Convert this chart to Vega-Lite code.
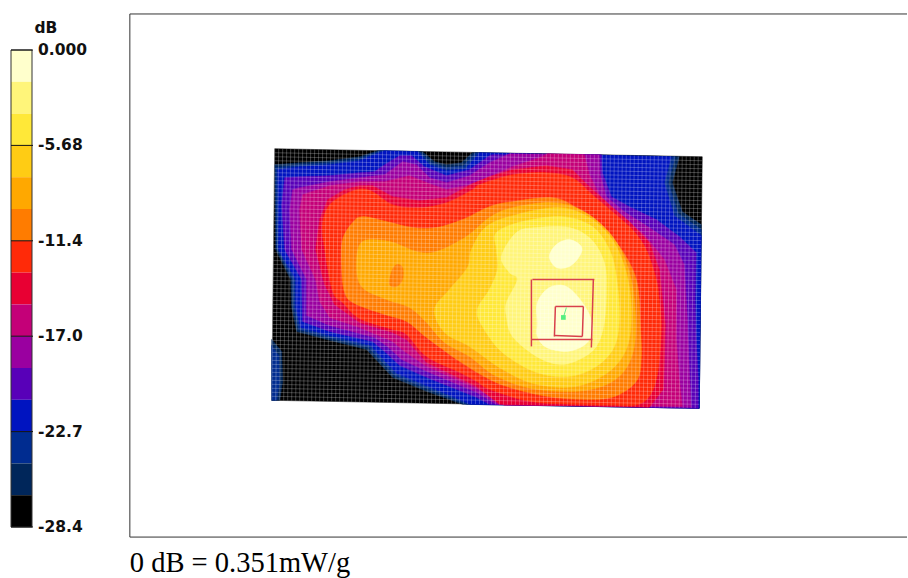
{"$schema":"https://vega.github.io/schema/vega-lite/v6.json","width":908,"height":578,"autosize":{"type":"fit","contains":"padding"},"padding":0,"background":"white","view":{"stroke":null},
"datasets":{
"outer":[
{"band":15,"part":1,"x":275,"y":149},{"band":15,"part":1,"x":703,"y":157},{"band":15,"part":1,"x":700,"y":409},{"band":15,"part":1,"x":272,"y":401},
{"band":14,"part":1,"x":378,"y":151},{"band":14,"part":1,"x":423,"y":152},{"band":14,"part":1,"x":435,"y":162},{"band":14,"part":1,"x":447,"y":165},{"band":14,"part":1,"x":462,"y":163},{"band":14,"part":1,"x":473,"y":153},{"band":14,"part":1,"x":680,"y":157},{"band":14,"part":1,"x":673,"y":183},{"band":14,"part":1,"x":683,"y":212},{"band":14,"part":1,"x":702,"y":225},{"band":14,"part":1,"x":700,"y":409},{"band":14,"part":1,"x":463,"y":405},{"band":14,"part":1,"x":427,"y":392},{"band":14,"part":1,"x":393,"y":378},{"band":14,"part":1,"x":378,"y":362},{"band":14,"part":1,"x":367,"y":350},{"band":14,"part":1,"x":327,"y":340},{"band":14,"part":1,"x":297,"y":332},{"band":14,"part":1,"x":292,"y":308},{"band":14,"part":1,"x":291,"y":280},{"band":14,"part":1,"x":276,"y":250},{"band":14,"part":1,"x":275,"y":165},{"band":14,"part":1,"x":300,"y":163},{"band":14,"part":1,"x":330,"y":161},{"band":14,"part":1,"x":360,"y":157},
{"band":14,"part":2,"x":272,"y":340},{"band":14,"part":2,"x":282,"y":352},{"band":14,"part":2,"x":283,"y":382},{"band":14,"part":2,"x":280,"y":401},{"band":14,"part":2,"x":272,"y":401},
{"band":13,"part":2,"x":272,"y":346},{"band":13,"part":2,"x":279,"y":356},{"band":13,"part":2,"x":280,"y":382},{"band":13,"part":2,"x":277,"y":401},{"band":13,"part":2,"x":272,"y":401},
{"band":13,"part":1,"x":381,"y":151},{"band":13,"part":1,"x":420,"y":152},{"band":13,"part":1,"x":432,"y":163},{"band":13,"part":1,"x":447,"y":168},{"band":13,"part":1,"x":464,"y":166},{"band":13,"part":1,"x":476,"y":153},{"band":13,"part":1,"x":676,"y":157},{"band":13,"part":1,"x":669,"y":183},{"band":13,"part":1,"x":679,"y":214},{"band":13,"part":1,"x":702,"y":230},{"band":13,"part":1,"x":700,"y":409},{"band":13,"part":1,"x":467,"y":405},{"band":13,"part":1,"x":429,"y":390},{"band":13,"part":1,"x":395,"y":376},{"band":13,"part":1,"x":380,"y":360},{"band":13,"part":1,"x":369,"y":348},{"band":13,"part":1,"x":328,"y":338},{"band":13,"part":1,"x":299,"y":330},{"band":13,"part":1,"x":294,"y":308},{"band":13,"part":1,"x":293,"y":280},{"band":13,"part":1,"x":277,"y":248},{"band":13,"part":1,"x":276,"y":168},{"band":13,"part":1,"x":300,"y":165},{"band":13,"part":1,"x":330,"y":163},{"band":13,"part":1,"x":360,"y":159},
{"band":12,"part":1,"x":385,"y":151},{"band":12,"part":1,"x":418,"y":152},{"band":12,"part":1,"x":430,"y":165},{"band":12,"part":1,"x":447,"y":171},{"band":12,"part":1,"x":466,"y":169},{"band":12,"part":1,"x":480,"y":153},{"band":12,"part":1,"x":672,"y":157},{"band":12,"part":1,"x":665,"y":183},{"band":12,"part":1,"x":675,"y":216},{"band":12,"part":1,"x":702,"y":236},{"band":12,"part":1,"x":700,"y":409},{"band":12,"part":1,"x":471,"y":405},{"band":12,"part":1,"x":431,"y":388},{"band":12,"part":1,"x":397,"y":374},{"band":12,"part":1,"x":382,"y":358},{"band":12,"part":1,"x":371,"y":346},{"band":12,"part":1,"x":330,"y":336},{"band":12,"part":1,"x":301,"y":328},{"band":12,"part":1,"x":296,"y":308},{"band":12,"part":1,"x":296,"y":280},{"band":12,"part":1,"x":279,"y":250},{"band":12,"part":1,"x":278,"y":170},{"band":12,"part":1,"x":300,"y":167},{"band":12,"part":1,"x":330,"y":165},{"band":12,"part":1,"x":360,"y":161},
{"band":11,"part":1,"x":385,"y":165},{"band":11,"part":1,"x":400,"y":156},{"band":11,"part":1,"x":412,"y":156},{"band":11,"part":1,"x":425,"y":167},{"band":11,"part":1,"x":447,"y":176},{"band":11,"part":1,"x":470,"y":170},{"band":11,"part":1,"x":490,"y":156},{"band":11,"part":1,"x":493,"y":155},{"band":11,"part":1,"x":602,"y":155},{"band":11,"part":1,"x":603,"y":173},{"band":11,"part":1,"x":612,"y":197},{"band":11,"part":1,"x":630,"y":207},{"band":11,"part":1,"x":657,"y":220},{"band":11,"part":1,"x":680,"y":237},{"band":11,"part":1,"x":697,"y":253},{"band":11,"part":1,"x":696,"y":300},{"band":11,"part":1,"x":697,"y":340},{"band":11,"part":1,"x":699,"y":380},{"band":11,"part":1,"x":699,"y":409},{"band":11,"part":1,"x":490,"y":405},{"band":11,"part":1,"x":477,"y":398},{"band":11,"part":1,"x":427,"y":378},{"band":11,"part":1,"x":400,"y":366},{"band":11,"part":1,"x":385,"y":352},{"band":11,"part":1,"x":373,"y":342},{"band":11,"part":1,"x":330,"y":332},{"band":11,"part":1,"x":303,"y":322},{"band":11,"part":1,"x":302,"y":280},{"band":11,"part":1,"x":285,"y":250},{"band":11,"part":1,"x":282,"y":205},{"band":11,"part":1,"x":285,"y":178},{"band":11,"part":1,"x":300,"y":177},{"band":11,"part":1,"x":330,"y":176},{"band":11,"part":1,"x":360,"y":173},{"band":11,"part":1,"x":375,"y":172},
{"band":10,"part":1,"x":385,"y":175},{"band":10,"part":1,"x":403,"y":162},{"band":10,"part":1,"x":417,"y":165},{"band":10,"part":1,"x":430,"y":178},{"band":10,"part":1,"x":447,"y":183},{"band":10,"part":1,"x":470,"y":176},{"band":10,"part":1,"x":490,"y":163},{"band":10,"part":1,"x":510,"y":154},{"band":10,"part":1,"x":600,"y":155},{"band":10,"part":1,"x":601,"y":175},{"band":10,"part":1,"x":607,"y":197},{"band":10,"part":1,"x":625,"y":212},{"band":10,"part":1,"x":650,"y":228},{"band":10,"part":1,"x":675,"y":245},{"band":10,"part":1,"x":685,"y":265},{"band":10,"part":1,"x":688,"y":318},{"band":10,"part":1,"x":690,"y":370},{"band":10,"part":1,"x":692,"y":408},{"band":10,"part":1,"x":497,"y":405},{"band":10,"part":1,"x":477,"y":393},{"band":10,"part":1,"x":427,"y":372},{"band":10,"part":1,"x":402,"y":360},{"band":10,"part":1,"x":388,"y":347},{"band":10,"part":1,"x":375,"y":338},{"band":10,"part":1,"x":330,"y":326},{"band":10,"part":1,"x":307,"y":316},{"band":10,"part":1,"x":307,"y":280},{"band":10,"part":1,"x":292,"y":250},{"band":10,"part":1,"x":290,"y":210},{"band":10,"part":1,"x":293,"y":190},{"band":10,"part":1,"x":300,"y":188},{"band":10,"part":1,"x":330,"y":182},{"band":10,"part":1,"x":360,"y":178},
{"band":9,"part":1,"x":360,"y":182},{"band":9,"part":1,"x":385,"y":182},{"band":9,"part":1,"x":410,"y":176},{"band":9,"part":1,"x":430,"y":184},{"band":9,"part":1,"x":447,"y":190},{"band":9,"part":1,"x":470,"y":185},{"band":9,"part":1,"x":490,"y":177},{"band":9,"part":1,"x":513,"y":167},{"band":9,"part":1,"x":540,"y":158},{"band":9,"part":1,"x":548,"y":154},{"band":9,"part":1,"x":585,"y":155},{"band":9,"part":1,"x":590,"y":175},{"band":9,"part":1,"x":600,"y":195},{"band":9,"part":1,"x":620,"y":215},{"band":9,"part":1,"x":645,"y":235},{"band":9,"part":1,"x":665,"y":260},{"band":9,"part":1,"x":677,"y":290},{"band":9,"part":1,"x":677,"y":340},{"band":9,"part":1,"x":680,"y":380},{"band":9,"part":1,"x":683,"y":407},{"band":9,"part":1,"x":505,"y":406},{"band":9,"part":1,"x":477,"y":389},{"band":9,"part":1,"x":427,"y":367},{"band":9,"part":1,"x":405,"y":352},{"band":9,"part":1,"x":393,"y":342},{"band":9,"part":1,"x":360,"y":328},{"band":9,"part":1,"x":330,"y":318},{"band":9,"part":1,"x":320,"y":302},{"band":9,"part":1,"x":316,"y":280},{"band":9,"part":1,"x":302,"y":250},{"band":9,"part":1,"x":300,"y":210},{"band":9,"part":1,"x":303,"y":195},{"band":9,"part":1,"x":330,"y":186},
{"band":8,"part":1,"x":360,"y":186},{"band":8,"part":1,"x":373,"y":186},{"band":8,"part":1,"x":393,"y":197},{"band":8,"part":1,"x":420,"y":201},{"band":8,"part":1,"x":447,"y":198},{"band":8,"part":1,"x":473,"y":184},{"band":8,"part":1,"x":490,"y":177},{"band":8,"part":1,"x":513,"y":170},{"band":8,"part":1,"x":547,"y":166},{"band":8,"part":1,"x":573,"y":170},{"band":8,"part":1,"x":590,"y":187},{"band":8,"part":1,"x":610,"y":205},{"band":8,"part":1,"x":630,"y":222},{"band":8,"part":1,"x":650,"y":243},{"band":8,"part":1,"x":660,"y":270},{"band":8,"part":1,"x":666,"y":325},{"band":8,"part":1,"x":665,"y":362},{"band":8,"part":1,"x":664,"y":390},{"band":8,"part":1,"x":650,"y":408},{"band":8,"part":1,"x":500,"y":405},{"band":8,"part":1,"x":477,"y":387},{"band":8,"part":1,"x":427,"y":363},{"band":8,"part":1,"x":407,"y":340},{"band":8,"part":1,"x":393,"y":333},{"band":8,"part":1,"x":360,"y":323},{"band":8,"part":1,"x":335,"y":305},{"band":8,"part":1,"x":325,"y":285},{"band":8,"part":1,"x":316,"y":250},{"band":8,"part":1,"x":320,"y":220},{"band":8,"part":1,"x":328,"y":200},{"band":8,"part":1,"x":345,"y":190}
],
"inner":[
{"band":7,"part":1,"x":480,"y":185},{"band":7,"part":1,"x":513,"y":175},{"band":7,"part":1,"x":547,"y":173},{"band":7,"part":1,"x":573,"y":178},{"band":7,"part":1,"x":593,"y":195},{"band":7,"part":1,"x":613,"y":212},{"band":7,"part":1,"x":633,"y":230},{"band":7,"part":1,"x":647,"y":250},{"band":7,"part":1,"x":657,"y":280},{"band":7,"part":1,"x":660,"y":300},{"band":7,"part":1,"x":662,"y":325},{"band":7,"part":1,"x":660,"y":362},{"band":7,"part":1,"x":654,"y":390},{"band":7,"part":1,"x":640,"y":405},{"band":7,"part":1,"x":610,"y":406},{"band":7,"part":1,"x":570,"y":405},{"band":7,"part":1,"x":530,"y":402},{"band":7,"part":1,"x":490,"y":390},{"band":7,"part":1,"x":477,"y":382},{"band":7,"part":1,"x":460,"y":373},{"band":7,"part":1,"x":427,"y":357},{"band":7,"part":1,"x":407,"y":335},{"band":7,"part":1,"x":393,"y":330},{"band":7,"part":1,"x":360,"y":319},{"band":7,"part":1,"x":343,"y":303},{"band":7,"part":1,"x":333,"y":292},{"band":7,"part":1,"x":325,"y":250},{"band":7,"part":1,"x":323,"y":223},{"band":7,"part":1,"x":332,"y":203},{"band":7,"part":1,"x":357,"y":190},{"band":7,"part":1,"x":373,"y":192},{"band":7,"part":1,"x":393,"y":205},{"band":7,"part":1,"x":420,"y":208},{"band":7,"part":1,"x":447,"y":203},{"band":7,"part":1,"x":473,"y":190},
{"band":6,"part":1,"x":490,"y":207},{"band":6,"part":1,"x":513,"y":202},{"band":6,"part":1,"x":553,"y":198},{"band":6,"part":1,"x":577,"y":208},{"band":6,"part":1,"x":597,"y":223},{"band":6,"part":1,"x":617,"y":243},{"band":6,"part":1,"x":630,"y":263},{"band":6,"part":1,"x":637,"y":280},{"band":6,"part":1,"x":640,"y":300},{"band":6,"part":1,"x":641,"y":325},{"band":6,"part":1,"x":642,"y":358},{"band":6,"part":1,"x":637,"y":382},{"band":6,"part":1,"x":613,"y":398},{"band":6,"part":1,"x":580,"y":400},{"band":6,"part":1,"x":547,"y":397},{"band":6,"part":1,"x":513,"y":389},{"band":6,"part":1,"x":490,"y":380},{"band":6,"part":1,"x":460,"y":362},{"band":6,"part":1,"x":427,"y":338},{"band":6,"part":1,"x":407,"y":322},{"band":6,"part":1,"x":385,"y":315},{"band":6,"part":1,"x":355,"y":304},{"band":6,"part":1,"x":345,"y":293},{"band":6,"part":1,"x":342,"y":267},{"band":6,"part":1,"x":343,"y":240},{"band":6,"part":1,"x":353,"y":223},{"band":6,"part":1,"x":363,"y":217},{"band":6,"part":1,"x":387,"y":222},{"band":6,"part":1,"x":413,"y":228},{"band":6,"part":1,"x":437,"y":228},{"band":6,"part":1,"x":463,"y":220},
{"band":5,"part":1,"x":490,"y":218},{"band":5,"part":1,"x":513,"y":208},{"band":5,"part":1,"x":553,"y":203},{"band":5,"part":1,"x":583,"y":211},{"band":5,"part":1,"x":610,"y":233},{"band":5,"part":1,"x":627,"y":263},{"band":5,"part":1,"x":635,"y":300},{"band":5,"part":1,"x":635,"y":347},{"band":5,"part":1,"x":620,"y":377},{"band":5,"part":1,"x":587,"y":391},{"band":5,"part":1,"x":537,"y":390},{"band":5,"part":1,"x":497,"y":377},{"band":5,"part":1,"x":470,"y":357},{"band":5,"part":1,"x":445,"y":343},{"band":5,"part":1,"x":427,"y":323},{"band":5,"part":1,"x":410,"y":308},{"band":5,"part":1,"x":387,"y":300},{"band":5,"part":1,"x":362,"y":287},{"band":5,"part":1,"x":357,"y":263},{"band":5,"part":1,"x":363,"y":242},{"band":5,"part":1,"x":390,"y":242},{"band":5,"part":1,"x":417,"y":252},{"band":5,"part":1,"x":437,"y":252},{"band":5,"part":1,"x":467,"y":237},
{"band":6,"part":2,"x":390,"y":285},{"band":6,"part":2,"x":392,"y":272},{"band":6,"part":2,"x":397,"y":265},{"band":6,"part":2,"x":403,"y":268},{"band":6,"part":2,"x":403,"y":280},{"band":6,"part":2,"x":397,"y":287},
{"band":4,"part":1,"x":487,"y":227},{"band":4,"part":1,"x":517,"y":215},{"band":4,"part":1,"x":560,"y":208},{"band":4,"part":1,"x":590,"y":218},{"band":4,"part":1,"x":613,"y":240},{"band":4,"part":1,"x":627,"y":273},{"band":4,"part":1,"x":632,"y":310},{"band":4,"part":1,"x":628,"y":347},{"band":4,"part":1,"x":610,"y":372},{"band":4,"part":1,"x":577,"y":387},{"band":4,"part":1,"x":537,"y":385},{"band":4,"part":1,"x":503,"y":370},{"band":4,"part":1,"x":470,"y":347},{"band":4,"part":1,"x":445,"y":333},{"band":4,"part":1,"x":435,"y":310},{"band":4,"part":1,"x":450,"y":290},{"band":4,"part":1,"x":468,"y":268},{"band":4,"part":1,"x":472,"y":250},
{"band":3,"part":1,"x":497,"y":233},{"band":3,"part":1,"x":523,"y":222},{"band":3,"part":1,"x":563,"y":217},{"band":3,"part":1,"x":593,"y":227},{"band":3,"part":1,"x":610,"y":250},{"band":3,"part":1,"x":617,"y":277},{"band":3,"part":1,"x":620,"y":317},{"band":3,"part":1,"x":615,"y":347},{"band":3,"part":1,"x":597,"y":367},{"band":3,"part":1,"x":570,"y":377},{"band":3,"part":1,"x":537,"y":373},{"band":3,"part":1,"x":503,"y":353},{"band":3,"part":1,"x":483,"y":327},{"band":3,"part":1,"x":478,"y":310},{"band":3,"part":1,"x":490,"y":290},{"band":3,"part":1,"x":498,"y":270},{"band":3,"part":1,"x":497,"y":250},
{"band":2,"part":1,"x":517,"y":233},{"band":2,"part":1,"x":537,"y":228},{"band":2,"part":1,"x":570,"y":228},{"band":2,"part":1,"x":592,"y":240},{"band":2,"part":1,"x":605,"y":263},{"band":2,"part":1,"x":607,"y":290},{"band":2,"part":1,"x":605,"y":323},{"band":2,"part":1,"x":597,"y":347},{"band":2,"part":1,"x":580,"y":360},{"band":2,"part":1,"x":560,"y":365},{"band":2,"part":1,"x":537,"y":357},{"band":2,"part":1,"x":513,"y":337},{"band":2,"part":1,"x":507,"y":317},{"band":2,"part":1,"x":507,"y":303},{"band":2,"part":1,"x":518,"y":280},{"band":2,"part":1,"x":510,"y":273},{"band":2,"part":1,"x":502,"y":257},
{"band":1,"part":1,"x":550,"y":257},{"band":1,"part":1,"x":557,"y":245},{"band":1,"part":1,"x":570,"y":240},{"band":1,"part":1,"x":582,"y":247},{"band":1,"part":1,"x":580,"y":257},{"band":1,"part":1,"x":570,"y":267},{"band":1,"part":1,"x":557,"y":268},
{"band":1,"part":2,"x":538,"y":323},{"band":1,"part":2,"x":538,"y":303},{"band":1,"part":2,"x":550,"y":288},{"band":1,"part":2,"x":567,"y":287},{"band":1,"part":2,"x":583,"y":303},{"band":1,"part":2,"x":593,"y":323},{"band":1,"part":2,"x":592,"y":337},{"band":1,"part":2,"x":583,"y":347},{"band":1,"part":2,"x":567,"y":352},{"band":1,"part":2,"x":547,"y":348},{"band":1,"part":2,"x":538,"y":337}
],
"mesh":[
{"x":275,"y":149,"x2":272,"y2":401},{"x":279,"y":149.1,"x2":276,"y2":401.1},{"x":283,"y":149.2,"x2":280,"y2":401.2},{"x":287,"y":149.2,"x2":284,"y2":401.2},{"x":291,"y":149.3,"x2":288,"y2":401.3},{"x":295,"y":149.4,"x2":292,"y2":401.4},{"x":299,"y":149.5,"x2":296,"y2":401.5},{"x":303,"y":149.5,"x2":300,"y2":401.5},{"x":307,"y":149.6,"x2":304,"y2":401.6},{"x":311,"y":149.7,"x2":308,"y2":401.7},{"x":315,"y":149.8,"x2":312,"y2":401.8},{"x":319,"y":149.8,"x2":316,"y2":401.8},{"x":323,"y":149.9,"x2":320,"y2":401.9},{"x":327,"y":150,"x2":324,"y2":402},{"x":331,"y":150.1,"x2":328,"y2":402.1},{"x":335,"y":150.1,"x2":332,"y2":402.1},{"x":339,"y":150.2,"x2":336,"y2":402.2},{"x":343,"y":150.3,"x2":340,"y2":402.3},{"x":347,"y":150.4,"x2":344,"y2":402.4},{"x":351,"y":150.4,"x2":348,"y2":402.4},{"x":355,"y":150.5,"x2":352,"y2":402.5},{"x":359,"y":150.6,"x2":356,"y2":402.6},{"x":363,"y":150.7,"x2":360,"y2":402.7},{"x":367,"y":150.7,"x2":364,"y2":402.7},{"x":371,"y":150.8,"x2":368,"y2":402.8},{"x":375,"y":150.9,"x2":372,"y2":402.9},{"x":379,"y":151,"x2":376,"y2":403},{"x":383,"y":151,"x2":380,"y2":403},{"x":387,"y":151.1,"x2":384,"y2":403.1},{"x":391,"y":151.2,"x2":388,"y2":403.2},{"x":395,"y":151.3,"x2":392,"y2":403.3},{"x":399,"y":151.3,"x2":396,"y2":403.3},{"x":403,"y":151.4,"x2":400,"y2":403.4},{"x":407,"y":151.5,"x2":404,"y2":403.5},{"x":411,"y":151.6,"x2":408,"y2":403.6},{"x":415,"y":151.6,"x2":412,"y2":403.6},{"x":419,"y":151.7,"x2":416,"y2":403.7},{"x":423,"y":151.8,"x2":420,"y2":403.8},{"x":427,"y":151.9,"x2":424,"y2":403.9},{"x":431,"y":151.9,"x2":428,"y2":403.9},{"x":435,"y":152,"x2":432,"y2":404},{"x":439,"y":152.1,"x2":436,"y2":404.1},{"x":443,"y":152.2,"x2":440,"y2":404.2},{"x":447,"y":152.2,"x2":444,"y2":404.2},{"x":451,"y":152.3,"x2":448,"y2":404.3},{"x":455,"y":152.4,"x2":452,"y2":404.4},{"x":459,"y":152.5,"x2":456,"y2":404.5},{"x":463,"y":152.5,"x2":460,"y2":404.5},{"x":467,"y":152.6,"x2":464,"y2":404.6},{"x":471,"y":152.7,"x2":468,"y2":404.7},{"x":475,"y":152.8,"x2":472,"y2":404.8},{"x":479,"y":152.8,"x2":476,"y2":404.8},{"x":483,"y":152.9,"x2":480,"y2":404.9},{"x":487,"y":153,"x2":484,"y2":405},{"x":491,"y":153.1,"x2":488,"y2":405.1},{"x":495,"y":153.1,"x2":492,"y2":405.1},{"x":499,"y":153.2,"x2":496,"y2":405.2},{"x":503,"y":153.3,"x2":500,"y2":405.3},{"x":507,"y":153.4,"x2":504,"y2":405.4},{"x":511,"y":153.4,"x2":508,"y2":405.4},{"x":515,"y":153.5,"x2":512,"y2":405.5},{"x":519,"y":153.6,"x2":516,"y2":405.6},{"x":523,"y":153.7,"x2":520,"y2":405.7},{"x":527,"y":153.7,"x2":524,"y2":405.7},{"x":531,"y":153.8,"x2":528,"y2":405.8},{"x":535,"y":153.9,"x2":532,"y2":405.9},{"x":539,"y":154,"x2":536,"y2":406},{"x":543,"y":154,"x2":540,"y2":406},{"x":547,"y":154.1,"x2":544,"y2":406.1},{"x":551,"y":154.2,"x2":548,"y2":406.2},{"x":555,"y":154.3,"x2":552,"y2":406.3},{"x":559,"y":154.3,"x2":556,"y2":406.3},{"x":563,"y":154.4,"x2":560,"y2":406.4},{"x":567,"y":154.5,"x2":564,"y2":406.5},{"x":571,"y":154.6,"x2":568,"y2":406.6},{"x":575,"y":154.6,"x2":572,"y2":406.6},{"x":579,"y":154.7,"x2":576,"y2":406.7},{"x":583,"y":154.8,"x2":580,"y2":406.8},{"x":587,"y":154.9,"x2":584,"y2":406.9},{"x":591,"y":154.9,"x2":588,"y2":406.9},{"x":595,"y":155,"x2":592,"y2":407},{"x":599,"y":155.1,"x2":596,"y2":407.1},{"x":603,"y":155.2,"x2":600,"y2":407.2},{"x":607,"y":155.2,"x2":604,"y2":407.2},{"x":611,"y":155.3,"x2":608,"y2":407.3},{"x":615,"y":155.4,"x2":612,"y2":407.4},{"x":619,"y":155.5,"x2":616,"y2":407.5},{"x":623,"y":155.5,"x2":620,"y2":407.5},{"x":627,"y":155.6,"x2":624,"y2":407.6},{"x":631,"y":155.7,"x2":628,"y2":407.7},{"x":635,"y":155.8,"x2":632,"y2":407.8},{"x":639,"y":155.8,"x2":636,"y2":407.8},{"x":643,"y":155.9,"x2":640,"y2":407.9},{"x":647,"y":156,"x2":644,"y2":408},{"x":651,"y":156.1,"x2":648,"y2":408.1},{"x":655,"y":156.1,"x2":652,"y2":408.1},{"x":659,"y":156.2,"x2":656,"y2":408.2},{"x":663,"y":156.3,"x2":660,"y2":408.3},{"x":667,"y":156.4,"x2":664,"y2":408.4},{"x":671,"y":156.4,"x2":668,"y2":408.4},{"x":675,"y":156.5,"x2":672,"y2":408.5},{"x":679,"y":156.6,"x2":676,"y2":408.6},{"x":683,"y":156.7,"x2":680,"y2":408.7},{"x":687,"y":156.7,"x2":684,"y2":408.7},{"x":691,"y":156.8,"x2":688,"y2":408.8},{"x":695,"y":156.9,"x2":692,"y2":408.9},{"x":699,"y":157,"x2":696,"y2":409},
{"x":275,"y":153,"x2":703,"y2":161},{"x":274.9,"y":157,"x2":702.9,"y2":165},{"x":274.9,"y":161,"x2":702.9,"y2":169},{"x":274.9,"y":165,"x2":702.9,"y2":173},{"x":274.8,"y":169,"x2":702.8,"y2":177},{"x":274.8,"y":173,"x2":702.8,"y2":181},{"x":274.7,"y":177,"x2":702.7,"y2":185},{"x":274.7,"y":181,"x2":702.7,"y2":189},{"x":274.6,"y":185,"x2":702.6,"y2":193},{"x":274.6,"y":189,"x2":702.6,"y2":197},{"x":274.5,"y":193,"x2":702.5,"y2":201},{"x":274.5,"y":197,"x2":702.5,"y2":205},{"x":274.4,"y":201,"x2":702.4,"y2":209},{"x":274.4,"y":205,"x2":702.4,"y2":213},{"x":274.3,"y":209,"x2":702.3,"y2":217},{"x":274.3,"y":213,"x2":702.3,"y2":221},{"x":274.2,"y":217,"x2":702.2,"y2":225},{"x":274.2,"y":221,"x2":702.2,"y2":229},{"x":274.1,"y":225,"x2":702.1,"y2":233},{"x":274.1,"y":229,"x2":702.1,"y2":237},{"x":274,"y":233,"x2":702,"y2":241},{"x":274,"y":237,"x2":702,"y2":245},{"x":273.9,"y":241,"x2":701.9,"y2":249},{"x":273.9,"y":245,"x2":701.9,"y2":253},{"x":273.8,"y":249,"x2":701.8,"y2":257},{"x":273.8,"y":253,"x2":701.8,"y2":261},{"x":273.8,"y":257,"x2":701.8,"y2":265},{"x":273.7,"y":261,"x2":701.7,"y2":269},{"x":273.7,"y":265,"x2":701.7,"y2":273},{"x":273.6,"y":269,"x2":701.6,"y2":277},{"x":273.6,"y":273,"x2":701.6,"y2":281},{"x":273.5,"y":277,"x2":701.5,"y2":285},{"x":273.5,"y":281,"x2":701.5,"y2":289},{"x":273.4,"y":285,"x2":701.4,"y2":293},{"x":273.4,"y":289,"x2":701.4,"y2":297},{"x":273.3,"y":293,"x2":701.3,"y2":301},{"x":273.3,"y":297,"x2":701.3,"y2":305},{"x":273.2,"y":301,"x2":701.2,"y2":309},{"x":273.2,"y":305,"x2":701.2,"y2":313},{"x":273.1,"y":309,"x2":701.1,"y2":317},{"x":273.1,"y":313,"x2":701.1,"y2":321},{"x":273,"y":317,"x2":701,"y2":325},{"x":273,"y":321,"x2":701,"y2":329},{"x":272.9,"y":325,"x2":700.9,"y2":333},{"x":272.9,"y":329,"x2":700.9,"y2":337},{"x":272.8,"y":333,"x2":700.8,"y2":341},{"x":272.8,"y":337,"x2":700.8,"y2":345},{"x":272.7,"y":341,"x2":700.7,"y2":349},{"x":272.7,"y":345,"x2":700.7,"y2":353},{"x":272.7,"y":349,"x2":700.7,"y2":357},{"x":272.6,"y":353,"x2":700.6,"y2":361},{"x":272.6,"y":357,"x2":700.6,"y2":365},{"x":272.5,"y":361,"x2":700.5,"y2":369},{"x":272.5,"y":365,"x2":700.5,"y2":373},{"x":272.4,"y":369,"x2":700.4,"y2":377},{"x":272.4,"y":373,"x2":700.4,"y2":381},{"x":272.3,"y":377,"x2":700.3,"y2":385},{"x":272.3,"y":381,"x2":700.3,"y2":389},{"x":272.2,"y":385,"x2":700.2,"y2":393},{"x":272.2,"y":389,"x2":700.2,"y2":397},{"x":272.1,"y":393,"x2":700.1,"y2":401},{"x":272.1,"y":397,"x2":700.1,"y2":405}
],
"probe":[
{"x":533,"y":280,"x2":595,"y2":280},{"x":532,"y":280,"x2":532,"y2":347},{"x":594,"y":280,"x2":592,"y2":348},{"x":532,"y":340,"x2":593,"y2":340},
{"x":556,"y":307,"x2":584,"y2":307},{"x":556,"y":307,"x2":555,"y2":337},{"x":584,"y":307,"x2":583,"y2":337},{"x":555,"y":336,"x2":583,"y2":337}
],
"frame":[{"x":130,"y":14,"x2":908,"y2":14},{"x":130,"y":14,"x2":130,"y2":538},{"x":130,"y":538,"x2":908,"y2":538}],
"scale":[
{"band":1,"top":0,"bottom":-1.893},{"band":2,"top":-1.893,"bottom":-3.787},{"band":3,"top":-3.787,"bottom":-5.68},{"band":4,"top":-5.68,"bottom":-7.573},{"band":5,"top":-7.573,"bottom":-9.467},{"band":6,"top":-9.467,"bottom":-11.36},{"band":7,"top":-11.36,"bottom":-13.253},{"band":8,"top":-13.253,"bottom":-15.147},{"band":9,"top":-15.147,"bottom":-17.04},{"band":10,"top":-17.04,"bottom":-18.933},{"band":11,"top":-18.933,"bottom":-20.827},{"band":12,"top":-20.827,"bottom":-22.72},{"band":13,"top":-22.72,"bottom":-24.613},{"band":14,"top":-24.613,"bottom":-26.507},{"band":15,"top":-26.507,"bottom":-28.4}
],
"box":[{"top":0,"bottom":-28.4}],
"ticks":[{"dB":0,"label":"0.000"},{"dB":-5.68,"label":"-5.68"},{"dB":-11.36,"label":"-11.4"},{"dB":-17.04,"label":"-17.0"},{"dB":-22.72,"label":"-22.7"},{"dB":-28.4,"label":"-28.4"}],
"notes":[{"x":46,"y":28,"label":"dB"}],
"caption":[{"x":130,"y":573,"label":"0 dB = 0.351mW/g"}],
"spot":[{"x":567,"y":308,"x2":564,"y2":318}]
},
"resolve":{"scale":{"y":"independent"}},
"layer":[
{"data":{"name":"outer"},"mark":{"type":"line","strokeWidth":0.5,"interpolate":"linear-closed"},"encoding":{"order":{"value":null},"detail":{"field":"part"},"x":{"field":"x","type":"quantitative","axis":null,"scale":{"domain":[0,908],"nice":false,"zero":false}},"y":{"field":"y","type":"quantitative","axis":null,"scale":{"domain":[578,0],"nice":false,"zero":false}},"fill":{"field":"band","type":"nominal","legend":null,"scale":{"domain":[1,2,3,4,5,6,7,8,9,10,11,12,13,14,15],"range":["#FFFFCC","#FFF57A","#FFE838","#FFCC14","#FFA800","#FF7C00","#FF2A08","#E80033","#C40078","#9A00A0","#5800B8","#0014C0","#002C90","#00265A","#000000"]}},"stroke":{"field":"band","type":"nominal","legend":null,"scale":{"domain":[1,2,3,4,5,6,7,8,9,10,11,12,13,14,15],"range":["#FFFFCC","#FFF57A","#FFE838","#FFCC14","#FFA800","#FF7C00","#FF2A08","#E80033","#C40078","#9A00A0","#5800B8","#0014C0","#002C90","#00265A","#000000"]}}}},
{"data":{"name":"inner"},"mark":{"type":"line","strokeWidth":0.5,"interpolate":"cardinal-closed"},"encoding":{"order":{"value":null},"detail":{"field":"part"},"x":{"field":"x","type":"quantitative","axis":null,"scale":{"domain":[0,908],"nice":false,"zero":false}},"y":{"field":"y","type":"quantitative","axis":null,"scale":{"domain":[578,0],"nice":false,"zero":false}},"fill":{"field":"band","type":"nominal","legend":null},"stroke":{"field":"band","type":"nominal","legend":null}}},
{"data":{"name":"mesh"},"mark":{"type":"rule","color":"#FFFFFF","strokeWidth":1,"opacity":0.24},"encoding":{"x":{"field":"x","type":"quantitative","axis":null,"scale":{"domain":[0,908],"nice":false,"zero":false}},"x2":{"field":"x2"},"y":{"field":"y","type":"quantitative","axis":null,"scale":{"domain":[578,0],"nice":false,"zero":false}},"y2":{"field":"y2"}}},
{"data":{"name":"probe"},"mark":{"type":"rule","color":"#D8404C","strokeWidth":1.5},"encoding":{"x":{"field":"x","type":"quantitative","axis":null,"scale":{"domain":[0,908],"nice":false,"zero":false}},"x2":{"field":"x2"},"y":{"field":"y","type":"quantitative","axis":null,"scale":{"domain":[578,0],"nice":false,"zero":false}},"y2":{"field":"y2"}}},
{"data":{"name":"spot"},"mark":{"type":"rule","color":"#66EE88","strokeWidth":1},"encoding":{"x":{"field":"x","type":"quantitative","axis":null,"scale":{"domain":[0,908],"nice":false,"zero":false}},"x2":{"field":"x2"},"y":{"field":"y","type":"quantitative","axis":null,"scale":{"domain":[578,0],"nice":false,"zero":false}},"y2":{"field":"y2"}}},
{"data":{"name":"spot"},"mark":{"type":"point","shape":"square","filled":true,"color":"#55EE80","size":22,"opacity":1},"encoding":{"x":{"field":"x2","type":"quantitative","axis":null,"scale":{"domain":[0,908],"nice":false,"zero":false}},"y":{"field":"y2","type":"quantitative","axis":null,"scale":{"domain":[578,0],"nice":false,"zero":false}}}},
{"data":{"name":"frame"},"mark":{"type":"rule","color":"#333333","strokeWidth":1},"encoding":{"x":{"field":"x","type":"quantitative","axis":null,"scale":{"domain":[0,908],"nice":false,"zero":false}},"x2":{"field":"x2"},"y":{"field":"y","type":"quantitative","axis":null,"scale":{"domain":[578,0],"nice":false,"zero":false}},"y2":{"field":"y2"}}},
{"data":{"name":"scale"},"mark":{"type":"rect"},"encoding":{"x":{"value":11},"x2":{"value":32},"y":{"field":"top","type":"quantitative","axis":null,"scale":{"domain":[-28.4,0],"range":[527,50],"nice":false,"zero":false}},"y2":{"field":"bottom"},"fill":{"field":"band","type":"nominal","legend":null}}},
{"data":{"name":"box"},"mark":{"type":"rect","fillOpacity":0,"stroke":"#333333","strokeWidth":1},"encoding":{"x":{"value":11},"x2":{"value":32},"y":{"field":"top","type":"quantitative","axis":null,"scale":{"domain":[-28.4,0],"range":[527,50],"nice":false,"zero":false}},"y2":{"field":"bottom"}}},
{"data":{"name":"ticks"},"mark":{"type":"rule","color":"#111111","strokeWidth":1},"encoding":{"x":{"value":11},"x2":{"value":33},"y":{"field":"dB","type":"quantitative","axis":null,"scale":{"domain":[-28.4,0],"range":[527,50],"nice":false,"zero":false}}}},
{"data":{"name":"ticks"},"mark":{"type":"text","align":"left","baseline":"middle","font":"DejaVu Sans","fontWeight":"bold","fontSize":15.5,"color":"#111111"},"encoding":{"x":{"value":38},"y":{"field":"dB","type":"quantitative","axis":null,"scale":{"domain":[-28.4,0],"range":[527,50],"nice":false,"zero":false}},"text":{"field":"label"}}},
{"data":{"name":"notes"},"mark":{"type":"text","align":"center","baseline":"middle","font":"DejaVu Sans","fontWeight":"bold","fontSize":15.5,"color":"#111111"},"encoding":{"x":{"field":"x","type":"quantitative","axis":null,"scale":{"domain":[0,908],"nice":false,"zero":false}},"y":{"field":"y","type":"quantitative","axis":null,"scale":{"domain":[578,0],"nice":false,"zero":false}},"text":{"field":"label"}}},
{"data":{"name":"caption"},"mark":{"type":"text","align":"left","baseline":"alphabetic","font":"Liberation Serif","fontSize":28.5,"color":"#000000"},"encoding":{"x":{"field":"x","type":"quantitative","axis":null,"scale":{"domain":[0,908],"nice":false,"zero":false}},"y":{"field":"y","type":"quantitative","axis":null,"scale":{"domain":[578,0],"nice":false,"zero":false}},"text":{"field":"label"}}}
]}
